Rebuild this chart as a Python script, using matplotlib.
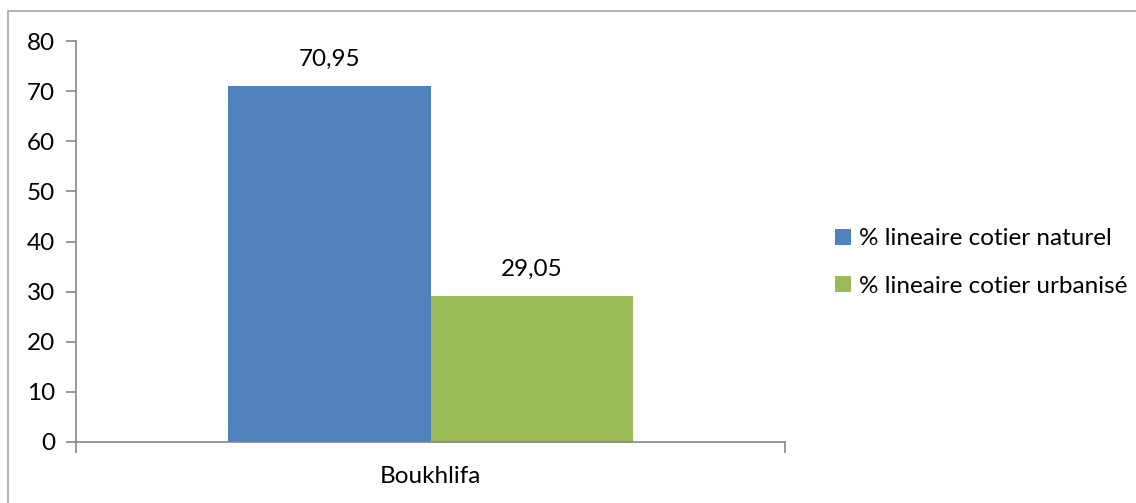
import matplotlib.pyplot as plt
from matplotlib.patches import Rectangle

plt.rcParams['font.family'] = ['Lato', 'DejaVu Sans']

categories = ["Boukhlifa"]
series_names = ["% lineaire cotier naturel", "% lineaire cotier urbanisé"]
values = [70.95, 29.05]
value_labels = ["70,95", "29,05"]
colors = ["#4F81BD", "#9BBB59"]
yticks = [0, 10, 20, 30, 40, 50, 60, 70, 80]

fs = 17.5

fig = plt.figure(figsize=(11.36, 5.03), dpi=100)
ax = fig.add_axes([76 / 1136, 1 - 442 / 503, (785 - 76) / 1136, (442 - 41) / 503])

# outer chart frame (right and bottom edges cut off in the original)
fig.patches.append(Rectangle((8 / 1136, -0.1), 1.2, 1 - 11 / 503 + 0.1,
                             transform=fig.transFigure, fill=False,
                             edgecolor="#A6A6A6", linewidth=1.2))

width = 0.285
offsets = [-width / 2, width / 2]
for name, v, lab, c, off in zip(series_names, values, value_labels, colors, offsets):
    ax.bar(off, v, width=width, color=c, label=name)
    ax.text(off, v + 3.3, lab, ha="center", va="bottom", fontsize=fs, color="black")

ax.set_xlim(-0.5, 0.5)
ax.set_ylim(0, 80)
ax.set_yticks(yticks)
ax.tick_params(axis="y", labelsize=fs, length=7, width=1.2, color="#868686", pad=8)
ax.set_xticks([-0.5, 0.5])
ax.set_xticklabels(["", ""])
ax.tick_params(axis="x", length=8, width=1.2, color="#868686")
ax.text(0, -0.06, categories[0], transform=ax.get_xaxis_transform(),
        ha="center", va="top", fontsize=fs)

for s in ["top", "right"]:
    ax.spines[s].set_visible(False)
for s in ["left", "bottom"]:
    ax.spines[s].set_color("#868686")
    ax.spines[s].set_linewidth(1.2)

leg = fig.legend(loc="upper left", bbox_to_anchor=(823 / 1136, 1 - 216 / 503),
                 frameon=False, fontsize=fs, handlelength=0.65, handleheight=0.65,
                 handletextpad=0.35, labelspacing=1.1, borderpad=0)

fig.savefig("out.png", dpi=100)
